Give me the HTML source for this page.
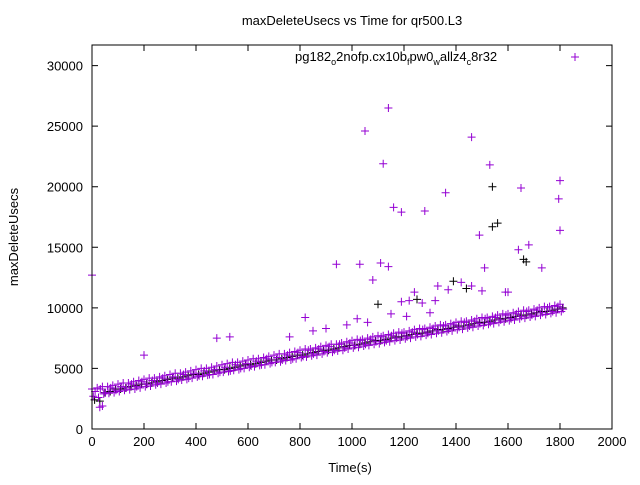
<!DOCTYPE html>
<html><head><meta charset="utf-8"><style>
body{margin:0;background:#fff}
svg{font-family:"Liberation Sans",sans-serif;font-size:12px}
</style></head><body>
<svg id="chart" width="640" height="480" xmlns="http://www.w3.org/2000/svg">
<rect width="640" height="480" fill="#fff"/>
<text x="352" y="25" text-anchor="middle" font-size="13">maxDeleteUsecs vs Time for qr500.L3</text>
<text x="350" y="472" text-anchor="middle" font-size="13">Time(s)</text>
<text transform="translate(18,237) rotate(-90)" text-anchor="middle" font-size="13">maxDeleteUsecs</text>
<g id="axes"></g>
<g id="marks"></g>
<g>
<text x="295" y="61" font-size="13">pg182<tspan dy="4" font-size="9">o</tspan><tspan dy="-4">2nofp.cx10b</tspan><tspan dy="4" font-size="9">f</tspan><tspan dy="-4">pw0</tspan><tspan dy="4" font-size="9">w</tspan><tspan dy="-4">allz4</tspan><tspan dy="4" font-size="9">c</tspan><tspan dy="-4">8r32</tspan></text>
<path d="M571 57h8M575 53v8" stroke="#9400d3" stroke-width="1"/>
</g>
<rect x="92" y="45" width="520" height="384" fill="none" stroke="#000" stroke-width="1"/>
</svg>
<script>
const times=[0,20,40,60,80,100,120,140,160,180,200,220,240,260,280,300,320,340,360,380,400,420,440,460,480,500,520,540,560,580,600,620,640,660,680,700,720,740,760,780,800,820,840,860,880,900,920,940,960,980,1000,1020,1040,1060,1080,1100,1120,1140,1160,1180,1200,1220,1240,1260,1280,1300,1320,1340,1360,1380,1400,1420,1440,1460,1480,1500,1520,1540,1560,1580,1600,1620,1640,1660,1680,1700,1720,1740,1760,1780,1800];
const purpleUpper=[3300,3400,3500,3500,3600,3700,3800,3800,3900,4000,4100,4200,4200,4300,4400,4500,4600,4600,4700,4800,4900,5000,5000,5100,5200,5300,5400,5500,5500,5600,5700,5800,5800,5900,6000,6100,6200,6200,6300,6400,6500,6600,6600,6700,6800,6900,7000,7000,7100,7200,7300,7400,7400,7500,7600,7700,7700,7800,7900,8000,8000,8100,8200,8300,8300,8400,8500,8600,8600,8700,8800,8900,8900,9000,9100,9200,9200,9300,9400,9500,9500,9600,9700,9800,9800,9900,10000,10100,10100,10200,10300];
const purpleLower=[2700,2600,2900,2950,3000,3100,3200,3250,3300,3400,3500,3550,3650,3700,3800,3900,3950,4050,4100,4200,4300,4350,4450,4500,4600,4700,4750,4850,4900,5000,5100,5150,5250,5300,5400,5500,5550,5650,5700,5800,5900,5950,6050,6100,6200,6300,6350,6450,6500,6600,6700,6750,6850,6900,7000,7050,7150,7200,7300,7350,7450,7500,7600,7650,7750,7800,7900,7950,8050,8100,8200,8250,8350,8400,8500,8550,8650,8700,8800,8850,8950,9000,9100,9150,9250,9300,9400,9450,9550,9600,9700];
const purpleMid=[3100,3300,3000,3400,3200,3500,3400,3700,3500,3900,3700,4000,3800,4200,3900,4300,4100,4500,4200,4600,4400,4800,4500,4900,4700,5100,4800,5300,5000,5400,5200,5600,5300,5800,5500,5900,5700,6100,5800,6300,6000,6500,6200,6600,6400,6800,6500,7000,6700,7100,6900,7300,7000,7400,7200,7600,7300,7700,7500,7900,7600,8000,7800,8200,7900,8300,8100,8500,8200,8600,8400,8800,8500,8900,8700,9100,8800,9200,9000,9400,9100,9500,9300,9700,9400,9800,9600,10000,9700,10100,9900];
const blackSeries=[2400,2300,3000,3100,3300,3300,3400,3500,3600,3700,3700,3800,3900,4000,4100,4200,4200,4300,4400,4500,4500,4600,4700,4800,4900,4900,5000,5100,5200,5300,5300,5400,5500,5600,5700,5700,5800,5900,6000,6100,6100,6200,6300,6400,6500,6500,6600,6700,6800,6900,6900,7000,7100,7200,7300,7300,7400,7500,7600,7600,7700,7800,7900,7900,8000,8100,8200,8200,8300,8400,8500,8500,8600,8700,8800,8800,8900,9000,9100,9100,9200,9300,9400,9400,9500,9600,9700,9700,9800,9900,10000];
const outlierTimes=[0,1050,1120,1140,1160,1190,1280,1360,1460,1490,1530,1650,1800,1795,1800,1640,1680,1030,1110,1140,1510,1730,1500,940,200,480,530,820,1080,1190,1220,1270,1320,1240,1330,1370,1420,1460,1590,1600,30,40,760,850,900,980,1020,1060,1150,1210,1300];
const outlierValues=[12700,24600,21900,26500,18300,17900,18000,19500,24100,16000,21800,19900,20500,19000,16400,14800,15200,13600,13700,13400,13300,13300,11400,13600,6100,7500,7600,9200,12300,10500,10600,10400,10600,11300,11800,11500,12100,11800,11300,11300,1800,1900,7600,8100,8300,8600,9100,8800,9500,9300,9600];
const blackOutTimes=[1540,1560,1540,1660,1670,1440,1250,1100,1390];
const blackOutValues=[20000,17000,16700,14000,13800,11600,10700,10300,12200];
const xTicks=[0,200,400,600,800,1000,1200,1400,1600,1800,2000];
const yTicks=[0,5000,10000,15000,20000,25000,30000];

const X0=92,X1=612,Y0=429,Y1=45;
const xs=v=>X0+(v/2000)*(X1-X0);
const ys=v=>Y0-(v/31700)*(Y0-Y1);
const NS="http://www.w3.org/2000/svg";
const axes=document.getElementById('axes'),marks=document.getElementById('marks');
function mk(tag,attrs,parent){const e=document.createElementNS(NS,tag);for(const k in attrs)e.setAttribute(k,attrs[k]);parent.appendChild(e);return e;}
xTicks.forEach(t=>{const x=xs(t);
 const p=mk('path',{d:`M${x} ${Y0}v-6M${x} ${Y1}v6`,stroke:'#000'},axes);
 
 
 const tx=mk('text',{x:x,y:Y0+17,'text-anchor':'middle','font-size':'13'},axes);tx.textContent=t;
 
 });
yTicks.forEach(t=>{const y=ys(t);
 const p=mk('path',{d:`M${X0} ${y}h6M${X1} ${y}h-6`,stroke:'#000'},axes);
 
 
 const tx=mk('text',{x:X0-9,y:y+5,'text-anchor':'end','font-size':'13'},axes);tx.textContent=t;
 
 });
function plus(t,v,color,name){const x=xs(t),y=ys(v);
 const p=mk('path',{d:`M${x-4} ${y}h8M${x} ${y-4}v8`,stroke:color,'stroke-width':'1'},marks);
 
 }
times.forEach((t,i)=>{if(i<blackSeries.length)plus(t+10,blackSeries[i],'#000','black-point');});
blackOutTimes.forEach((t,i)=>plus(t,blackOutValues[i],'#000','black-outlier'));
times.forEach((t,i)=>{
 if(i<purpleUpper.length)plus(t,purpleUpper[i],'#9400d3','purple-point');
 if(i<purpleLower.length)plus(t+5,purpleLower[i],'#9400d3','purple-point');
 if(i<purpleMid.length)plus(t+12,purpleMid[i],'#9400d3','purple-point');});
outlierTimes.forEach((t,i)=>plus(t,outlierValues[i],'#9400d3','purple-outlier'));
</script>
</body></html>
